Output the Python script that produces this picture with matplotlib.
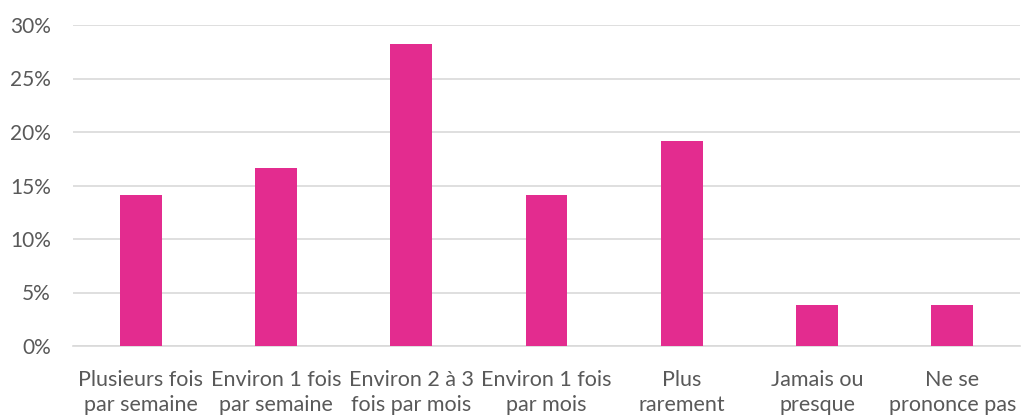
import matplotlib
matplotlib.use("Agg")
import matplotlib.pyplot as plt
from matplotlib.ticker import PercentFormatter

categories = ["Plusieurs fois\npar semaine", "Environ 1 fois\npar semaine", "Environ 2 à 3\nfois par mois",
              "Environ 1 fois\npar mois", "Plus\nrarement", "Jamais ou\npresque", "Ne se\nprononce pas"]
values = [14.1, 16.6, 28.2, 14.1, 19.2, 3.8, 3.8]

plt.rcParams['font.family'] = ['Lato', 'DejaVu Sans']

fig = plt.figure(figsize=(10.21, 4.18), dpi=100)
ax = fig.add_axes([73 / 1021, 1 - 346 / 418, 947 / 1021, 321 / 418])

x = range(len(categories))
ax.bar(x, values, width=0.31, color='#E32C8F', zorder=3)

ax.set_xlim(-0.5, len(categories) - 0.5)
ax.set_ylim(0, 30)
ax.set_yticks(range(0, 31, 5))
ax.yaxis.set_major_formatter(PercentFormatter(decimals=0))
ax.set_xticks(list(x))
ax.set_xticklabels(categories, linespacing=1.35)
ax.tick_params(axis='both', length=0, colors='#595959')
ax.tick_params(axis='x', pad=17, labelsize=15.5)
ax.tick_params(axis='y', pad=16, labelsize=15)

ax.grid(axis='y', color='#D9D9D9', linewidth=1.2, zorder=0)
for side in ['top', 'right', 'left']:
    ax.spines[side].set_visible(False)
ax.spines['bottom'].set_color('#D9D9D9')
ax.spines['bottom'].set_linewidth(1.2)

fig.savefig('out.png', dpi=100)
